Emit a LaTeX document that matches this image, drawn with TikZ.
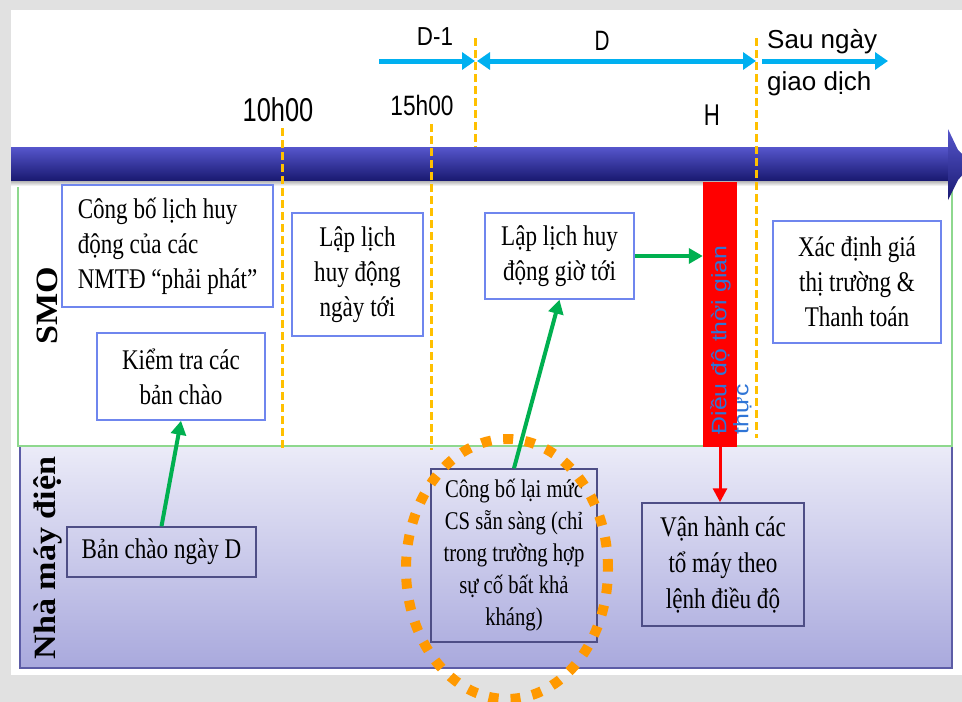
\documentclass[tikz,border=0pt]{standalone}
\usepackage{fontspec}
\setmainfont{Liberation Serif}
\newfontfamily\boxfont[FakeStretch=0.81]{Liberation Serif}
\newfontfamily\lblfont[FakeStretch=1.1]{Liberation Serif}
\newfontfamily\sansN{Liberation Sans}
\newfontfamily\sansA[FakeStretch=0.77]{Liberation Sans}
\newfontfamily\sansB[FakeStretch=0.81]{Liberation Sans}
\newfontfamily\sansC[FakeStretch=0.86]{Liberation Sans}
\newfontfamily\sansD[FakeStretch=0.74]{Liberation Sans}
\newfontfamily\rotfont[FakeStretch=1.18]{Liberation Sans}
\usetikzlibrary{arrows.meta,shapes.geometric}
\definecolor{bggray}{HTML}{E1E1E1}
\definecolor{boxblue}{HTML}{6F86EE}
\definecolor{smoedge}{HTML}{8ED88E}
\definecolor{lavedge}{HTML}{5C5CA6}
\definecolor{lavtop}{HTML}{EBEBF8}
\definecolor{lavbot}{HTML}{A9A9DD}
\definecolor{lowedge}{HTML}{4E4E86}
\definecolor{dashyel}{HTML}{FFC000}
\definecolor{hlorange}{HTML}{FF9900}
\definecolor{skyblue}{HTML}{00B0F0}
\definecolor{arrgreen}{HTML}{00B050}
\definecolor{rtblue}{HTML}{2F75D6}
\definecolor{tltop}{HTML}{5656CC}
\definecolor{tlmid}{HTML}{25258F}
\definecolor{tlbot}{HTML}{1A1A72}
\tikzset{
  btip/.tip={Triangle[length=13pt,width=17pt]},
  ubox/.style={draw=boxblue, line width=1.5pt, fill=white, inner sep=0pt, align=center,
    font=\boxfont\fontsize{28.5}{35}\selectfont},
  lbox/.style={draw=lowedge, line width=1.5pt, inner sep=0pt, align=center,
    font=\boxfont\fontsize{28.5}{36}\selectfont},
  tdash/.style={draw=dashyel, line width=3pt, dash pattern=on 8pt off 4pt},
  garrow/.style={draw=arrgreen, line width=4pt, -{Triangle[length=14pt,width=15pt]}},
  rarrow/.style={draw=red, line width=3pt, -{Triangle[length=14pt,width=14pt]}},
  barrow/.style={draw=skyblue, line width=5pt},
  toplabel/.style={inner sep=0pt, text=black},
  lanelabel/.style={inner sep=0pt, rotate=90, font=\lblfont\bfseries\fontsize{31}{34}\selectfont}
}
\begin{document}
\begin{tikzpicture}[x=1pt,y=-1pt]
\useasboundingbox (0,0) rectangle (962,702);
\clip (0,0) rectangle (962,702);
\fill[bggray] (0,0) rectangle (962,702);
\fill[white] (11,10) rectangle (962,675);

% lanes
\shade[top color=lavtop, bottom color=lavbot] (20,446) rectangle (952,668);
\draw[lavedge, line width=2pt] (20,446) rectangle (952,668);
\draw[smoedge, line width=1.5pt, fill=white] (18,180) rectangle (952,446);
\shade[top color=black!35, bottom color=white] (11,180) rectangle (949,186);

\node[lanelabel] (smo) at (47,306) {SMO};
\node[lanelabel] (nmd) at (48,558) {Nhà máy điện};

% dashed time markers
\coordinate (v1t) at (282,128); \coordinate (v1b) at (282,450);
\coordinate (v2t) at (431,124); \coordinate (v2b) at (431,450);
\coordinate (v3t) at (475,38);  \coordinate (v3b) at (475,147);
\coordinate (v4t) at (756,38);  \coordinate (v4b) at (756,438);

% timeline bar
\shade[top color=tltop, middle color=tlmid, bottom color=tlbot] (11,147) rectangle (950,180);
\shade[top color=tltop, middle color=tlmid, bottom color=tlbot] (948,129) -- (958,150) -- (972,164) -- (958,180) -- (948,200) -- cycle;

\draw[tdash] (v1t) -- (v1b);
\draw[tdash] (v2t) -- (v2b);
\draw[tdash] (v3t) -- (v3b);
\draw[tdash] (v4t) -- (v4b);

% top labels
\node[toplabel, font=\sansA\fontsize{33}{36}\selectfont] (t10) at (278,110) {10h00};
\node[toplabel, font=\sansB\fontsize{28}{32}\selectfont] (t15) at (422,105) {15h00};
\node[toplabel, font=\sansC\fontsize{26}{30}\selectfont] (td1) at (435,37) {D-1};
\node[toplabel, font=\sansD\fontsize{28}{30}\selectfont] (td) at (602,41) {D};
\node[toplabel, font=\sansD\fontsize{30}{30}\selectfont] (th) at (712,115) {H};
\node[toplabel, anchor=north west, align=left, font=\sansN\fontsize{26}{42}\selectfont] (tsau) at (767,29) {Sau ngày\\giao dịch};

% period arrows
\coordinate (a1s) at (379,61); \coordinate (a1e) at (475,61);
\coordinate (a2s) at (477,61); \coordinate (a2e) at (756,61);
\coordinate (a3s) at (762,61); \coordinate (a3e) at (888,61);
\draw[barrow, -{btip}] (a1s) -- (a1e);
\draw[barrow, {btip}-{btip}] (a2s) -- (a2e);
\draw[barrow, -{btip}] (a3s) -- (a3e);

% SMO boxes
\node[ubox, align=left, minimum width=211pt, minimum height=122pt] (b1) at (167.5,246) {Công bố lịch huy\\động của các\\NMTĐ “phải phát”};
\node[ubox, minimum width=168pt, minimum height=87pt] (b2) at (181,376.5) {Kiểm tra các\\bản chào};
\node[ubox, minimum width=131pt, minimum height=123pt] (b3) at (357.5,274.5) {Lập lịch\\huy động\\ngày tới};
\node[ubox, minimum width=149pt, minimum height=86pt] (b4) at (559.5,256) {Lập lịch huy\\động giờ tới};
\node[ubox, minimum width=168pt, minimum height=122pt] (b5) at (857,282) {Xác định giá\\thị trường \&\\Thanh toán};

% real-time dispatch bar
\node[fill=red, inner sep=0pt, minimum width=34pt, minimum height=265pt] (rb) at (720,314.5) {};
\node[inner sep=0pt, rotate=90, align=left, text=rtblue, font=\rotfont\fontsize{21}{22}\selectfont] (rt) at (731,340) {Điều độ thời gian\\thực};

% plant boxes
\node[lbox, minimum width=189pt, minimum height=50pt] (b6) at (161.5,552) {Bản chào ngày D};
\node[lbox, minimum width=166pt, minimum height=173pt, font=\boxfont\fontsize{25.5}{32}\selectfont] (b7) at (514,555.5) {Công bố lại mức\\CS sẵn sàng (chỉ\\trong trường hợp\\sự cố bất khả\\kháng)};
\node[lbox, minimum width=162pt, minimum height=123pt] (b8) at (723,564.5) {Vận hành các\\tổ máy theo\\lệnh điều độ};

% connectors
\draw[garrow] (b6.north) -- (b2.south);
\draw[garrow] (b7.north) -- (b4.south);
\draw[garrow] (b4.east) -- (b4.east -| rb.west);
\draw[rarrow] (rb.south) -- (rb.south |- b8.north);

% highlight
\node[ellipse, draw=hlorange, line width=10pt, dash pattern=on 10pt off 12pt, minimum width=202pt, minimum height=260pt, inner sep=0pt] (hl) at (507,569) {};
\end{tikzpicture}
\end{document}
